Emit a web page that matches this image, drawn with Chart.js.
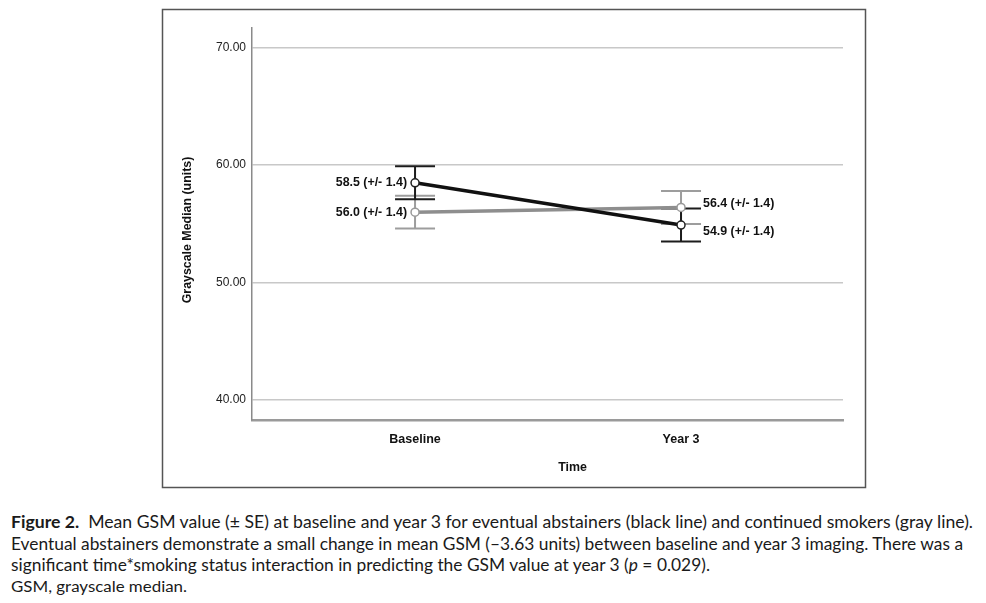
<!DOCTYPE html>
<html>
<head>
<meta charset="utf-8">
<script src="https://cdn.jsdelivr.net/npm/chart.js@4.4.1/dist/chart.umd.min.js"></script>
<style>
  html, body { margin: 0; padding: 0; background: #fff; width: 986px; height: 603px; overflow: hidden; }
  #wrap { position: absolute; left: 0; top: 0; width: 986px; height: 495px; }
  #cap { position: absolute; left: 11px; top: 511px; font-family: Lato, "Open Sans", sans-serif; color: #1a1a1a; }
  .ln { white-space: nowrap; font-size: 17px; line-height: 21.5px; transform-origin: 0 0; display: block; width: max-content; }
  .ln.small { font-size: 14.5px; margin-top: 0px; }
  b { font-weight: 700; }
</style>
</head>
<body>
<div id="wrap"><canvas id="c"></canvas></div>
<div id="cap">
  <span class="ln" data-w="962"><b>Figure 2.</b>&nbsp; Mean GSM value (± SE) at baseline and year 3 for eventual abstainers (black line) and continued smokers (gray line).</span>
  <span class="ln" data-w="952">Eventual abstainers demonstrate a small change in mean GSM (–3.63 units) between baseline and year 3 imaging. There was a</span>
  <span class="ln" data-w="699">significant time*smoking status interaction in predicting the GSM value at year 3 (<i>p</i> = 0.029).</span>
  <span class="ln small" data-w="176">GSM, grayscale median.</span>
</div>
<script>
// ---- data ----
const categories = ['Baseline', 'Year 3'];
const abstainers = [58.5, 54.9];
const abstainersSE = [1.4, 1.4];
const smokers = [56.0, 56.4];
const smokersSE = [1.4, 1.4];
const yTicks = [40, 50, 60, 70];
const yTitle = 'Grayscale Median (units)';
const xTitle = 'Time';

const FONT = '"Liberation Sans", Arial, Helvetica, sans-serif';

function pts(vals) { return vals.map((v, i) => ({ x: i, y: v })); }

const seMap = [abstainersSE, smokersSE];
const labelStyle = [
  [{ side: 'left', dy: 0 }, { side: 'right', dy: 7 }],
  [{ side: 'left', dy: 0 }, { side: 'right', dy: -4 }]
];

const decor = {
  id: 'decor',
  beforeDraw(chart) {
    const ctx = chart.ctx;
    ctx.save();
    ctx.strokeStyle = '#555';
    ctx.lineWidth = 1.5;
    ctx.strokeRect(162.5, 9.5, 703, 478);
    ctx.restore();
  },
  beforeDatasetsDraw(chart) {
    const ctx = chart.ctx;
    const xs = chart.scales.x, ys = chart.scales.y;
    ctx.save();
    [1, 0].forEach(di => {
      const ds = chart.data.datasets[di];
      const se = seMap[di];
      ctx.strokeStyle = ds.errColor;
      ctx.lineWidth = 2;
      ds.data.forEach((p, i) => {
        const x = xs.getPixelForValue(p.x);
        const yt = ys.getPixelForValue(p.y + se[i]);
        const yb = ys.getPixelForValue(p.y - se[i]);
        ctx.beginPath();
        ctx.moveTo(x, yt); ctx.lineTo(x, yb);
        ctx.moveTo(x - 20, yt); ctx.lineTo(x + 20, yt);
        ctx.moveTo(x - 20, yb); ctx.lineTo(x + 20, yb);
        ctx.stroke();
      });
    });
    ctx.restore();
  },
  afterDatasetsDraw(chart) {
    const ctx = chart.ctx;
    const xs = chart.scales.x, ys = chart.scales.y;
    ctx.save();
    ctx.font = 'bold 12.4px ' + FONT;
    ctx.fillStyle = '#111';
    ctx.textBaseline = 'middle';
    chart.data.datasets.forEach((ds, di) => {
      const se = seMap[di];
      ds.data.forEach((p, i) => {
        const st = labelStyle[di][i];
        const x = xs.getPixelForValue(p.x);
        const y = ys.getPixelForValue(p.y) + st.dy;
        const txt = p.y.toFixed(1) + ' (+/- ' + se[i].toFixed(1) + ')';
        if (st.side === 'left') { ctx.textAlign = 'right'; ctx.fillText(txt, x - 8, y); }
        else { ctx.textAlign = 'left'; ctx.fillText(txt, x + 22, y); }
      });
    });
    const ca = chart.chartArea;
    ctx.textAlign = 'center';
    ctx.fillText(xTitle, (ca.left + ca.right) / 2 + 25, 468);
    ctx.translate(188, (ca.top + ca.bottom) / 2 + 6);
    ctx.rotate(-Math.PI / 2);
    ctx.fillText(yTitle, 0, 0);
    ctx.restore();
  }
};

new Chart(document.getElementById('c'), {
  type: 'line',
  data: {
    datasets: [
      {
        label: 'Eventual abstainers',
        data: pts(abstainers),
        borderColor: '#111',
        borderWidth: 3.5,
        pointRadius: 4,
        pointBackgroundColor: '#fff',
        pointBorderColor: '#222',
        pointBorderWidth: 1.5,
        errColor: '#1c1c1c',
        order: 0
      },
      {
        label: 'Continued smokers',
        data: pts(smokers),
        borderColor: '#8e8e8e',
        borderWidth: 3.5,
        pointRadius: 4,
        pointBackgroundColor: '#fff',
        pointBorderColor: '#999',
        pointBorderWidth: 1.5,
        errColor: '#9d9d9d',
        order: 1
      }
    ]
  },
  options: {
    responsive: true,
    maintainAspectRatio: false,
    animation: false,
    devicePixelRatio: 1,
    layout: { padding: { left: 170, right: 143, top: 28, bottom: 15 } },
    plugins: { legend: { display: false }, tooltip: { enabled: false } },
    scales: {
      x: {
        type: 'linear',
        min: -0.613,
        max: 1.609,
        afterBuildTicks: s => { s.ticks = categories.map((_, i) => ({ value: i })); },
        afterFit: s => { s.height = 60; },
        grid: { display: false, drawTicks: false },
        border: { display: true, color: '#9a9a9a', width: 2.5 },
        ticks: {
          padding: 12,
          autoSkip: false,
          maxRotation: 0,
          color: '#111',
          font: { family: FONT, size: 12.5, weight: 'bold' },
          callback: v => categories[v]
        }
      },
      y: {
        min: 38.3,
        max: 71.68,
        afterBuildTicks: s => { s.ticks = yTicks.map(v => ({ value: v })); },
        afterFit: s => { s.width = 82; },
        grid: { color: '#c8c8c8', lineWidth: 1.5, drawTicks: false },
        border: { display: true, color: '#8a8a8a', width: 1.5 },
        ticks: {
          padding: 6,
          color: '#222',
          font: { family: FONT, size: 12 },
          callback: v => v.toFixed(2)
        }
      }
    }
  },
  plugins: [decor]
});

document.querySelectorAll('.ln').forEach(el => {
  const w = el.getBoundingClientRect().width;
  const t = parseFloat(el.dataset.w);
  el.style.transform = 'scaleX(' + (t / w) + ')';
});
</script>
</body>
</html>
